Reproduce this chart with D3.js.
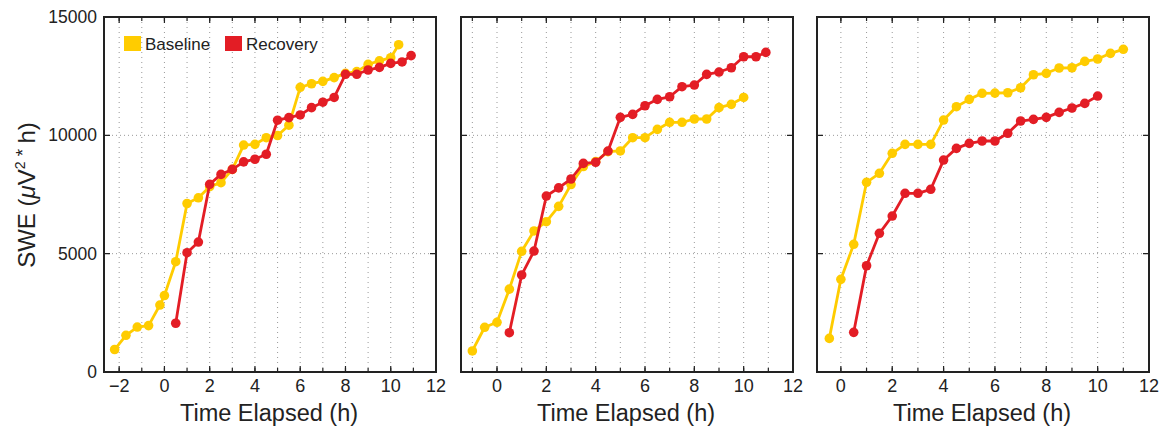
<!DOCTYPE html>
<html>
<head>
<meta charset="utf-8">
<script src="https://cdn.jsdelivr.net/npm/d3@7"></script>
<style>
  body { margin: 0; background: #fff; }
  text { font-family: "Liberation Sans", Arial, sans-serif; fill: #222; }
</style>
</head>
<body>
<svg id="chart" width="1161" height="427"></svg>
<script>
// data (time in h, SWE in uV^2*h)
var baseT1 = [-2.2, -1.7, -1.2, -0.7, -0.2, 0, 0.5, 1, 1.5, 2, 2.5, 3, 3.5, 4, 4.5, 5, 5.5, 6, 6.5, 7, 7.5, 8, 8.5, 9, 9.5, 10, 10.35];
var baseV1 = [950, 1550, 1900, 1960, 2830, 3230, 4660, 7120, 7360, 7830, 8000, 8560, 9590, 9620, 9900, 9990, 10430, 12030, 12180, 12280, 12440, 12620, 12690, 13000, 13150, 13280, 13830];
var recT1 = [0.5, 1, 1.5, 2, 2.5, 3, 3.5, 4, 4.5, 5, 5.5, 6, 6.5, 7, 7.5, 8, 8.5, 9, 9.5, 10, 10.5, 10.9];
var recV1 = [2060, 5040, 5490, 7930, 8350, 8560, 8880, 8990, 9200, 10640, 10750, 10860, 11170, 11400, 11600, 12580, 12580, 12760, 12870, 13040, 13100, 13370];

var baseT2 = [-1, -0.5, 0, 0.5, 1, 1.5, 2, 2.5, 3, 3.5, 4, 4.5, 5, 5.5, 6, 6.5, 7, 7.5, 8, 8.5, 9, 9.5, 10];
var baseV2 = [890, 1890, 2100, 3500, 5100, 5960, 6350, 7000, 7920, 8680, 8890, 9310, 9340, 9900, 9900, 10250, 10550, 10550, 10690, 10690, 11170, 11310, 11600];
var recT2 = [0.5, 1, 1.5, 2, 2.5, 3, 3.5, 4, 4.5, 5, 5.5, 6, 6.5, 7, 7.5, 8, 8.5, 9, 9.5, 10, 10.5, 10.9];
var recV2 = [1660, 4100, 5110, 7435, 7780, 8155, 8815, 8860, 9335, 10760, 10885, 11250, 11520, 11630, 12055, 12125, 12575, 12675, 12855, 13320, 13320, 13505];

var baseT3 = [-0.45, 0, 0.5, 1, 1.5, 2, 2.5, 3, 3.5, 4, 4.5, 5, 5.5, 6, 6.5, 7, 7.5, 8, 8.5, 9, 9.5, 10, 10.5, 11];
var baseV3 = [1420, 3915, 5395, 8015, 8395, 9240, 9620, 9620, 9620, 10645, 11210, 11520, 11775, 11785, 11800, 12010, 12560, 12620, 12845, 12855, 13125, 13225, 13465, 13635];
var recT3 = [0.5, 1, 1.5, 2, 2.5, 3, 3.5, 4, 4.5, 5, 5.5, 6, 6.5, 7, 7.5, 8, 8.5, 9, 9.5, 10];
var recV3 = [1675, 4490, 5860, 6590, 7550, 7550, 7720, 8955, 9450, 9660, 9760, 9760, 10085, 10605, 10675, 10760, 10970, 11155, 11350, 11660];

var xMins = [-2.67, -1.46, -0.93];
var panelLeft = [104, 461, 817];
var xTicks = [-2, 0, 2, 4, 6, 8, 10, 12];
var yTicks = [0, 5000, 10000, 15000];
var seriesNames = ["Baseline", "Recovery"];
var colors = ["#FFCC00", "#E31D25"];

var panels = [
  [[baseT1, baseV1], [recT1, recV1]],
  [[baseT2, baseV2], [recT2, recV2]],
  [[baseT3, baseV3], [recT3, recV3]]
];

var pw = 332, plotTop = 17, ph = 355;
var svg = d3.select("#chart");

var y = d3.scaleLinear().domain([0, 15000]).range([ph, 0]);

panels.forEach(function (series, i) {
  var x = d3.scaleLinear().domain([xMins[i], 12]).range([0, pw]);
  var g = svg.append("g").attr("transform", "translate(" + panelLeft[i] + "," + plotTop + ")");

  // dotted grid: every hour vertically, major y ticks horizontally
  var hours = d3.range(Math.ceil(xMins[i]), 12);
  g.selectAll(".vg").data(hours).enter().append("line")
    .attr("x1", d => x(d)).attr("x2", d => x(d))
    .attr("y1", 0).attr("y2", ph)
    .attr("stroke", "#999").attr("stroke-width", 1).attr("stroke-dasharray", "1,4");
  g.selectAll(".hg").data([5000, 10000]).enter().append("line")
    .attr("x1", 0).attr("x2", pw)
    .attr("y1", d => y(d)).attr("y2", d => y(d))
    .attr("stroke", "#999").attr("stroke-width", 1).attr("stroke-dasharray", "1,3");

  // minor ticks (inward) top and bottom
  g.selectAll(".mt").data(hours).enter().append("path")
    .attr("d", d => "M" + x(d) + "," + ph + "v-4M" + x(d) + ",0v4")
    .attr("stroke", "#222").attr("stroke-width", 1.2);

  // bottom axis labels
  var ticks = xTicks.filter(t => t >= xMins[i]);
  g.selectAll(".xt").data(ticks).enter().append("path")
    .attr("d", d => "M" + x(d) + "," + ph + "v-6M" + x(d) + ",0v6")
    .attr("stroke", "#222").attr("stroke-width", 1.2);
  g.selectAll(".xl").data(ticks).enter().append("text")
    .attr("x", d => x(d)).attr("y", ph + 20)
    .attr("text-anchor", "middle").attr("font-size", "18px")
    .text(d => d < 0 ? "\u2212" + (-d) : d);

  // y ticks
  g.selectAll(".yt").data(yTicks).enter().append("path")
    .attr("d", d => "M0," + y(d) + "h6M" + pw + "," + y(d) + "h-6")
    .attr("stroke", "#222").attr("stroke-width", 1.2);
  if (i === 0) {
    g.selectAll(".yl").data(yTicks).enter().append("text")
      .attr("x", -7).attr("y", d => y(d) + 6)
      .attr("text-anchor", "end").attr("font-size", "17.5px")
      .text(d => d);
  }

  // lines and markers
  var line = d3.line().x(d => x(d[0])).y(d => y(d[1]));
  series.forEach(function (s, k) {
    var pts = s[0].map((t, j) => [t, s[1][j]]);
    g.append("path").datum(pts)
      .attr("d", line).attr("fill", "none")
      .attr("stroke", colors[k]).attr("stroke-width", 2.8).attr("stroke-linejoin", "round");
    g.selectAll(".pt" + k).data(pts).enter().append("circle")
      .attr("cx", d => x(d[0])).attr("cy", d => y(d[1])).attr("r", 4.8)
      .attr("fill", colors[k]);
  });

  // box
  g.append("rect").attr("width", pw).attr("height", ph)
    .attr("fill", "none").attr("stroke", "#222").attr("stroke-width", 2);

  g.append("text")
    .attr("x", pw / 2 - 1).attr("y", ph + 49)
    .attr("text-anchor", "middle").attr("font-size", "23.5px")
    .text("Time Elapsed (h)");

  if (i === 0) {
    var leg = g.append("g").attr("transform", "translate(20,19)");
    var offs = [0, 101];
    seriesNames.forEach(function (n, k) {
      leg.append("rect").attr("x", offs[k]).attr("y", 0).attr("width", 17).attr("height", 15)
        .attr("fill", colors[k]);
      leg.append("text").attr("x", offs[k] + 21).attr("y", 14)
        .attr("font-size", "17px").text(n);
    });
  }
});

// y label
var yl = svg.append("text")
  .attr("transform", "translate(35,195) rotate(-90)")
  .attr("text-anchor", "middle").attr("font-size", "24px");
yl.append("tspan").text("SWE (");
yl.append("tspan").attr("font-style", "italic").text("\u03bc");
yl.append("tspan").text("V");
yl.append("tspan").attr("font-size", "14px").attr("dy", -10).text("2");
yl.append("tspan").attr("font-size", "19px").attr("dy", 4).text(" * ");
yl.append("tspan").attr("dy", 6).text("h)");
</script>
</body>
</html>
